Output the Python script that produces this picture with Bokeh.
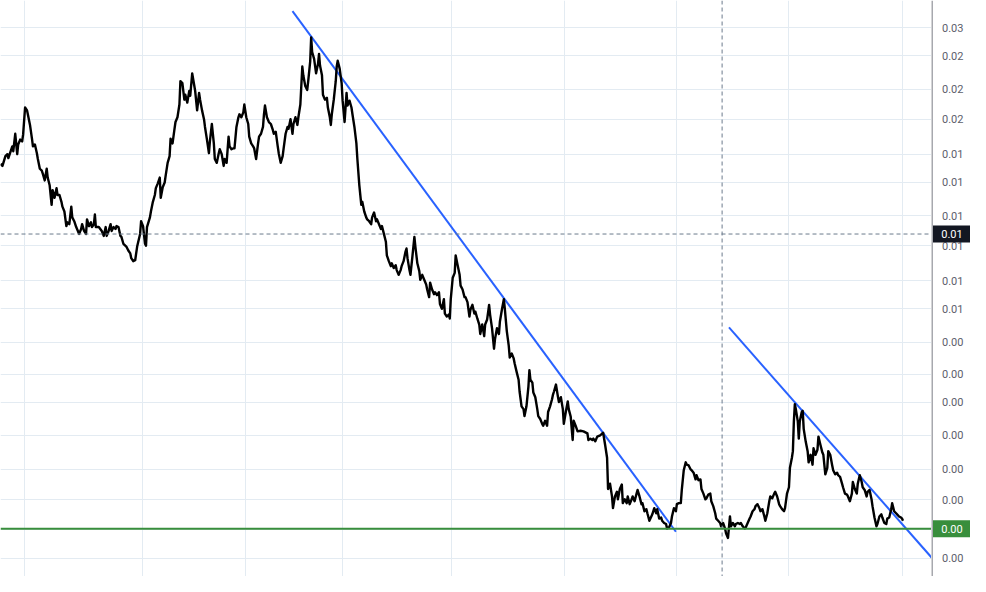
from bokeh.plotting import figure
from bokeh.layouts import row
from bokeh.models import Range1d, FixedTicker, Span
from bokeh.core.properties import value
from bokeh.embed import file_html
from bokeh.resources import INLINE

# ---- data (bar index, close price) ----
bar_index = [
    0, 2, 5, 7, 8, 12, 13, 15, 17, 18, 20, 22, 23, 25, 27, 28, 30, 32, 33, 35,
    37, 38, 40, 42, 43, 45, 47, 48, 50, 52, 53, 55, 57, 58, 60, 62, 63, 65, 67, 68,
    70, 72, 73, 75, 77, 80, 82, 83, 85, 87, 88, 90, 92, 93, 95, 96, 97, 100, 103, 105,
    107, 108, 110, 112, 113, 115, 117, 118, 120, 122, 123, 125, 128, 130, 132, 133, 135, 137, 139, 142,
    143, 145, 147, 148, 149, 152, 153, 155, 157, 158, 160, 162, 163, 165, 167, 168, 170, 172, 173, 175,
    177, 178, 180, 182, 183, 185, 187, 188, 190, 192, 193, 195, 197, 198, 200, 202, 203, 205, 207, 208,
    210, 212, 213, 215, 217, 218, 220, 222, 223, 225, 227, 228, 230, 232, 233, 235, 237, 238, 240, 242,
    243, 245, 247, 248, 250, 252, 253, 255, 257, 258, 260, 262, 263, 265, 267, 268, 269, 271, 273, 275,
    277, 278, 280, 282, 283, 285, 287, 288, 290, 292, 293, 295, 297, 298, 300, 302, 303, 305, 307, 308,
    310, 312, 313, 315, 316, 317, 319, 321, 323, 324, 325, 327, 328, 330, 332, 333, 335, 336, 337, 339,
    341, 342, 343, 345, 347, 348, 350, 352, 353, 355, 357, 358, 360, 362, 363, 365, 367, 368, 370, 372,
    373, 375, 377, 378, 380, 382, 383, 385, 387, 388, 390, 392, 393, 395, 397, 398, 400, 402, 403, 405,
    407, 408, 410, 412, 413, 414, 416, 417, 419, 421, 422, 424, 426, 427, 429, 431, 433, 434, 436, 437,
    439, 441, 442, 444, 446, 447, 449, 451, 452, 454, 456, 457, 458, 460, 462, 463, 465, 467, 468, 470,
    472, 473, 475, 477, 478, 480, 482, 483, 485, 487, 488, 490, 492, 493, 495, 497, 498, 500, 502, 503,
    505, 507, 508, 510, 512, 513, 515, 517, 518, 520, 522, 523, 525, 527, 528, 530, 532, 533, 535, 537,
    538, 539, 541, 542, 544, 546, 547, 549, 551, 552, 554, 556, 557, 559, 561, 562, 563, 565, 567, 568,
    570, 572, 573, 575, 577, 578, 580, 582, 583, 585, 587, 590, 593, 597, 598, 600, 602, 603, 605, 607,
    610, 613, 615, 617, 618, 620, 622, 623, 625, 627, 628, 630, 632, 633, 635, 637, 638, 640, 642, 643,
    645, 647, 648, 650, 652, 653, 655, 657, 658, 660, 662, 663, 665, 667, 668, 670, 672, 673, 675, 677,
    678, 680, 682, 683, 685, 687, 688, 690, 692, 693, 695, 697, 698, 700, 702, 703, 705, 707, 708, 710,
    712, 713, 715, 717, 718, 720, 722, 723, 725, 727, 728, 730, 732, 733, 735, 737, 738, 740, 742, 743,
    745, 747, 748, 750, 752, 753, 755, 757, 758, 760, 762, 763, 765, 767, 768, 770, 772, 773, 775, 777,
    778, 780, 782, 783, 785, 787, 788, 790, 792, 793, 795, 797, 798, 800, 802, 803, 805, 806, 807, 808,
    809, 811, 812, 813, 815, 816, 817, 819, 821, 822, 824, 826, 827, 829, 831, 832, 834, 836, 837, 839,
    841, 842, 844, 846, 847, 849, 851, 852, 854, 856, 857, 859, 861, 862, 864, 866, 867, 869, 871, 872,
    874, 876, 877, 879, 881, 882, 884, 886, 887, 889, 891, 892, 894, 896, 897, 899, 901, 902, 904, 906,
    907, 909, 911, 912, 914, 916, 917, 918,
]

close_price = [
    0.01280, 0.01265, 0.01340, 0.01356, 0.01325, 0.01420, 0.01380, 0.01530, 0.01356, 0.01436,
    0.01478, 0.01462, 0.01522, 0.01787, 0.01757, 0.01707, 0.01612, 0.01487, 0.01420, 0.01436,
    0.01364, 0.01318, 0.01244, 0.01230, 0.01208, 0.01161, 0.01244, 0.01181, 0.01128, 0.01005,
    0.01096, 0.01047, 0.01109, 0.01065, 0.01065, 0.01023, 0.00994, 0.00966, 0.00886, 0.00906,
    0.00896, 0.00994, 0.00933, 0.00912, 0.00881, 0.00846, 0.00871, 0.00896, 0.00861, 0.00846,
    0.00922, 0.00886, 0.00906, 0.00881, 0.00896, 0.00949, 0.00881, 0.00881, 0.00861, 0.00836,
    0.00881, 0.00836, 0.00861, 0.00896, 0.00861, 0.00881, 0.00871, 0.00886, 0.00881, 0.00836,
    0.00831, 0.00798, 0.00785, 0.00767, 0.00754, 0.00733, 0.00720, 0.00724, 0.00785, 0.00846,
    0.00912, 0.00886, 0.00798, 0.00789, 0.00881, 0.00933, 0.00966, 0.01023, 0.01065, 0.01109,
    0.01141, 0.01181, 0.01047, 0.01115, 0.01147, 0.01194, 0.01288, 0.01340, 0.01487, 0.01445,
    0.01575, 0.01640, 0.01687, 0.01819, 0.02088, 0.02064, 0.01872, 0.01927, 0.01840, 0.01972,
    0.01916, 0.02187, 0.02041, 0.01972, 0.01757, 0.01949, 0.01872, 0.01757, 0.01668, 0.01593,
    0.01478, 0.01364, 0.01462, 0.01621, 0.01445, 0.01318, 0.01288, 0.01364, 0.01396, 0.01356,
    0.01265, 0.01318, 0.01288, 0.01504, 0.01420, 0.01396, 0.01404, 0.01404, 0.01593, 0.01687,
    0.01717, 0.01687, 0.01737, 0.01819, 0.01687, 0.01621, 0.01504, 0.01445, 0.01420, 0.01404,
    0.01318, 0.01445, 0.01504, 0.01530, 0.01593, 0.01717, 0.01808, 0.01687, 0.01640, 0.01621,
    0.01566, 0.01530, 0.01548, 0.01420, 0.01364, 0.01288, 0.01340, 0.01404, 0.01530, 0.01593,
    0.01575, 0.01668, 0.01530, 0.01621, 0.01687, 0.01612, 0.01687, 0.01819, 0.02277, 0.02162,
    0.02029, 0.01983, 0.02088, 0.02343, 0.02706, 0.02482, 0.02383, 0.02187, 0.02317, 0.02454,
    0.02290, 0.02162, 0.01927, 0.01872, 0.01893, 0.01787, 0.01687, 0.01612, 0.01717, 0.01872,
    0.02088, 0.02277, 0.02356, 0.02250, 0.02064, 0.01861, 0.01640, 0.01949, 0.01808, 0.01861,
    0.01787, 0.01717, 0.01593, 0.01445, 0.01318, 0.01128, 0.01005, 0.01023, 0.00966, 0.00933,
    0.00922, 0.00912, 0.00896, 0.00933, 0.00960, 0.00912, 0.00922, 0.00896, 0.00871, 0.00886,
    0.00846, 0.00808, 0.00745, 0.00720, 0.00699, 0.00711, 0.00691, 0.00703, 0.00683, 0.00664,
    0.00683, 0.00699, 0.00720, 0.00762, 0.00776, 0.00733, 0.00683, 0.00664, 0.00741, 0.00831,
    0.00785, 0.00711, 0.00679, 0.00645, 0.00664, 0.00645, 0.00627, 0.00609, 0.00582, 0.00634,
    0.00609, 0.00592, 0.00599, 0.00589, 0.00599, 0.00559, 0.00543, 0.00575, 0.00528, 0.00519,
    0.00525, 0.00513, 0.00575, 0.00653, 0.00672, 0.00745, 0.00703, 0.00664, 0.00623, 0.00609,
    0.00582, 0.00582, 0.00565, 0.00519, 0.00540, 0.00556, 0.00528, 0.00534, 0.00513, 0.00495,
    0.00468, 0.00495, 0.00462, 0.00495, 0.00510, 0.00556, 0.00525, 0.00484, 0.00429, 0.00454,
    0.00484, 0.00468, 0.00504, 0.00540, 0.00575, 0.00543, 0.00476, 0.00436, 0.00407, 0.00417,
    0.00405, 0.00393, 0.00374, 0.00357, 0.00333, 0.00305, 0.00300, 0.00288, 0.00305, 0.00343,
    0.00378, 0.00357, 0.00351, 0.00331, 0.00322, 0.00300, 0.00288, 0.00283, 0.00275, 0.00272,
    0.00280, 0.00272, 0.00295, 0.00305, 0.00318, 0.00327, 0.00333, 0.00347, 0.00323, 0.00313,
    0.00322, 0.00300, 0.00275, 0.00295, 0.00314, 0.00300, 0.00287, 0.00250, 0.00280, 0.00272,
    0.00263, 0.00264, 0.00263, 0.00260, 0.00250, 0.00252, 0.00250, 0.00252, 0.00248, 0.00255,
    0.00257, 0.00261, 0.00243, 0.00225, 0.00187, 0.00193, 0.00179, 0.00167, 0.00179, 0.00184,
    0.00176, 0.00187, 0.00192, 0.00172, 0.00176, 0.00172, 0.00179, 0.00171, 0.00176, 0.00179,
    0.00174, 0.00182, 0.00186, 0.00179, 0.00171, 0.00172, 0.00164, 0.00166, 0.00162, 0.00155,
    0.00159, 0.00161, 0.00167, 0.00162, 0.00166, 0.00157, 0.00158, 0.00155, 0.00153, 0.00152,
    0.00148, 0.00149, 0.00153, 0.00159, 0.00167, 0.00164, 0.00171, 0.00172, 0.00172, 0.00186,
    0.00209, 0.00219, 0.00216, 0.00215, 0.00210, 0.00209, 0.00206, 0.00198, 0.00203, 0.00197,
    0.00198, 0.00187, 0.00182, 0.00176, 0.00177, 0.00181, 0.00182, 0.00174, 0.00169, 0.00162,
    0.00157, 0.00155, 0.00153, 0.00150, 0.00153, 0.00148, 0.00144, 0.00140, 0.00159, 0.00150,
    0.00153, 0.00150, 0.00152, 0.00153, 0.00152, 0.00153, 0.00150, 0.00148, 0.00149, 0.00153,
    0.00157, 0.00159, 0.00164, 0.00166, 0.00169, 0.00171, 0.00167, 0.00164, 0.00166, 0.00159,
    0.00155, 0.00162, 0.00174, 0.00179, 0.00177, 0.00182, 0.00184, 0.00179, 0.00171, 0.00169,
    0.00166, 0.00164, 0.00167, 0.00182, 0.00189, 0.00212, 0.00225, 0.00234, 0.00279, 0.00309,
    0.00300, 0.00279, 0.00252, 0.00279, 0.00295, 0.00297, 0.00267, 0.00248, 0.00234, 0.00219,
    0.00229, 0.00216, 0.00238, 0.00229, 0.00236, 0.00255, 0.00243, 0.00232, 0.00229, 0.00204,
    0.00212, 0.00234, 0.00229, 0.00215, 0.00209, 0.00204, 0.00206, 0.00203, 0.00201, 0.00193,
    0.00189, 0.00182, 0.00181, 0.00179, 0.00174, 0.00182, 0.00195, 0.00187, 0.00182, 0.00193,
    0.00203, 0.00195, 0.00189, 0.00186, 0.00179, 0.00184, 0.00186, 0.00176, 0.00169, 0.00158,
    0.00150, 0.00152, 0.00159, 0.00161, 0.00158, 0.00153, 0.00152, 0.00157, 0.00158, 0.00166,
    0.00172, 0.00164, 0.00162, 0.00161, 0.00159, 0.00158, 0.00157, 0.00155,
]

# trend lines (drawn between two anchor points: bar index, price)
trend1_x = [297, 687]
trend1_y = [0.031595, 0.0014525]
trend2_x = [741, 960]
trend2_y = [0.0048654, 0.0011450]

# horizontal support level and crosshair
support_price = 0.001478
support_label = "0.00"
cross_x = 734
cross_price = 0.008455
cross_label = "0.01"

# price scale ticks and time grid
price_ticks = [0.028650, 0.024245, 0.019935, 0.016677, 0.013556, 0.011472, 0.009432,
               0.007891, 0.006414, 0.005428, 0.004463, 0.003691, 0.003123, 0.002567,
               0.002100, 0.001757, 0.001469, 0.001243]
price_tick_labels = ["%.2f" % v for v in price_ticks]
time_grid = [24, 144, 249, 348, 459, 574, 688, 802, 917]

assert len(bar_index) == len(close_price)

GRID = "#e3ebf2"
AXIS = "#50535e"
FONT = value("Roboto")
H = 576
shared_y = Range1d(0.0011146, 0.0336605)

# ---------------- main chart pane ----------------
p = figure(frame_width=931, frame_height=H, y_axis_type="log",
           y_axis_location=None, x_axis_location=None,
           x_range=Range1d(0, 947), y_range=shared_y,
           output_backend="svg", toolbar_location=None,
           min_border_left=0, min_border_top=0, min_border_bottom=0, min_border_right=0)
p.outline_line_color = None
p.background_fill_color = "white"
p.border_fill_color = "white"
p.xgrid.ticker = FixedTicker(ticks=time_grid)
p.ygrid.ticker = FixedTicker(ticks=price_ticks)
p.xgrid.grid_line_color = GRID
p.ygrid.grid_line_color = GRID

# crosshair
p.add_layout(Span(location=cross_x, dimension="height", line_color="#6b7a8c",
                  line_dash="4 3", line_width=1))
p.add_layout(Span(location=cross_price, dimension="width", line_color="#6b7a8c",
                  line_dash="4 3", line_width=1))
# support level
p.add_layout(Span(location=support_price, dimension="width", line_color="#388e3c",
                  line_width=2))
# trend lines
p.line(trend1_x, trend1_y, line_color="#2962ff", line_width=2)
p.line(trend2_x, trend2_y, line_color="#2962ff", line_width=2)
# price
p.line(bar_index, close_price, line_color="black", line_width=2.4, line_join="round")

# ---------------- price scale pane ----------------
q = figure(frame_width=39, frame_height=H, y_axis_type="log",
           y_axis_location=None, x_axis_location=None,
           x_range=Range1d(0, 39), y_range=shared_y,
           output_backend="svg", toolbar_location=None,
           min_border_left=0, min_border_top=0, min_border_bottom=0, min_border_right=0)
q.outline_line_color = None
q.background_fill_color = "white"
q.border_fill_color = "white"
q.grid.visible = False

q.add_layout(Span(location=0.5, dimension="height", line_color=AXIS, line_width=1))
q.text(x=[10.5] * len(price_ticks), y=price_ticks, text=price_tick_labels,
       text_font=FONT, text_font_size="11px", text_color="#5d606b",
       text_align="left", text_baseline="middle")

for price, label, color in [(cross_price, cross_label, "#131722"),
                            (support_price, support_label, "#388e3c")]:
    q.rect(x=[20.5], y=[price], width=38, height=17, height_units="screen",
           fill_color=color, line_color=None)
    q.text(x=[20.5], y=[price], text=[label], text_font=FONT, text_font_size="11px",
           text_color="white", text_align="center", text_baseline="middle")

layout = row(p, q)
open("out.html", "w").write(file_html(layout, INLINE))
